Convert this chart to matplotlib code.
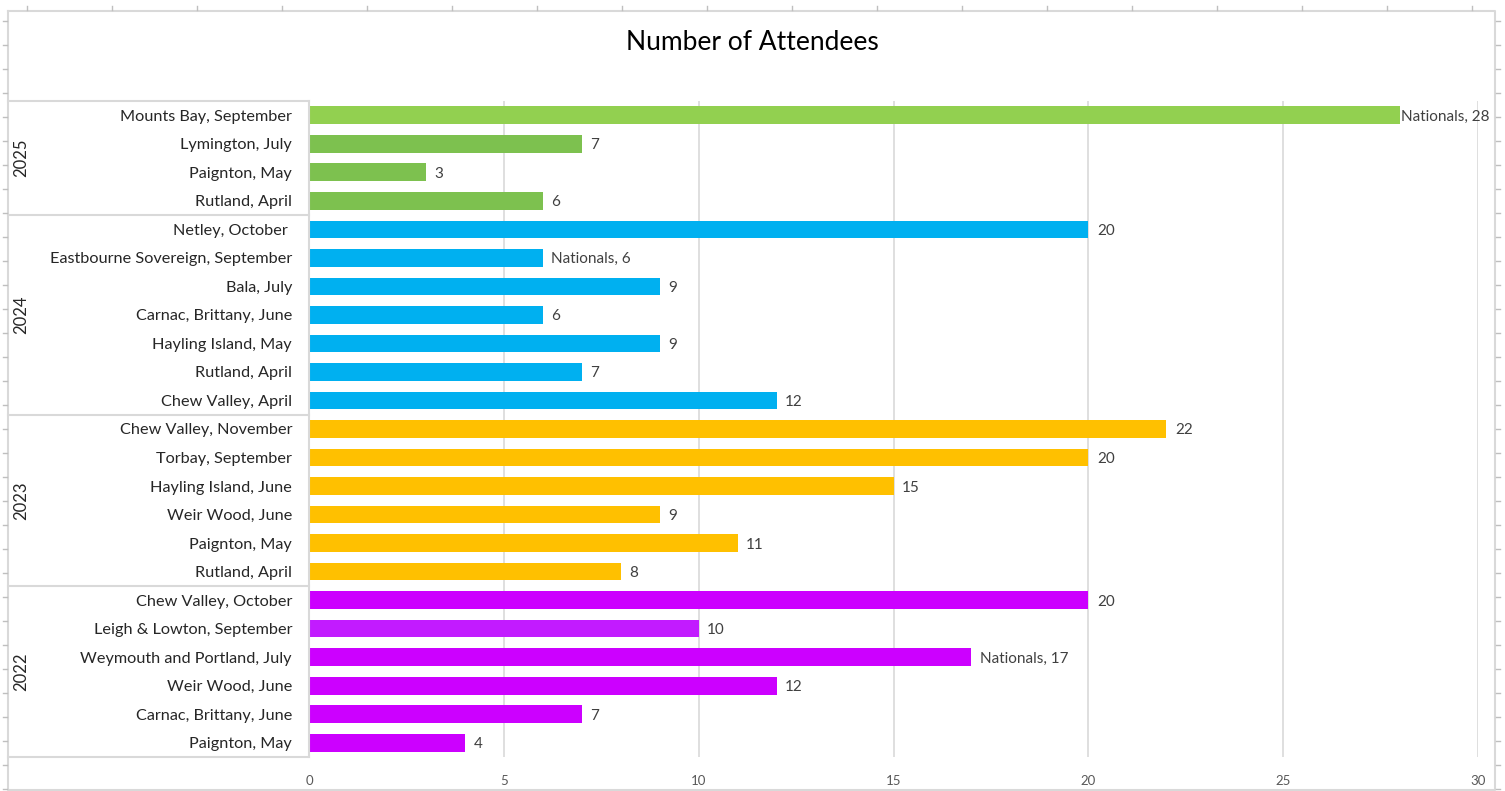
import matplotlib
matplotlib.use("Agg")
import matplotlib.pyplot as plt
from matplotlib.lines import Line2D
from matplotlib.transforms import offset_copy

years = ["2025", "2024", "2023", "2022"]
events = [
    ["Mounts Bay, September", "Lymington, July", "Paignton, May", "Rutland, April"],
    ["Netley, October ", "Eastbourne Sovereign, September", "Bala, July", "Carnac, Brittany, June",
     "Hayling Island, May", "Rutland, April", "Chew Valley, April"],
    ["Chew Valley, November", "Torbay, September", "Hayling Island, June", "Weir Wood, June",
     "Paignton, May", "Rutland, April"],
    ["Chew Valley, October", "Leigh & Lowton, September", "Weymouth and Portland, July",
     "Weir Wood, June", "Carnac, Brittany, June", "Paignton, May"],
]
attendees = [
    [28, 7, 3, 6],
    [20, 6, 9, 6, 9, 7, 12],
    [22, 20, 15, 9, 11, 8],
    [20, 10, 17, 12, 7, 4],
]
label_prefix = [
    ["Nationals, ", "", "", ""],
    ["", "Nationals, ", "", "", "", "", ""],
    ["", "", "", "", "", ""],
    ["", "", "Nationals, ", "", "", ""],
]
bar_colors = [
    ["#92D050", "#7DC14F", "#7DC14F", "#7DC14F"],
    ["#00B0F0"] * 7,
    ["#FFC000"] * 6,
    ["#CC00FF", "#C21BFF", "#CC00FF", "#CC00FF", "#CC00FF", "#CC00FF"],
]
xticks = [0, 5, 10, 15, 20, 25, 30]

plt.rcParams['font.family'] = ['Lato', 'DejaVu Sans']
W, H = 1505, 791
fig = plt.figure(figsize=(W / 100, H / 100), dpi=100)
fig.patch.set_facecolor("white")

def fx(px):
    return px / W

def fy(py):
    return 1 - py / H

ax_left, ax_right, ax_top, ax_bot = 309, 1478, 101, 757
ax = fig.add_axes([fx(ax_left), fy(ax_bot), fx(ax_right - ax_left), (ax_bot - ax_top) / H])

n = sum(len(e) for e in events)
labels, vals, cols, texts = [], [], [], []
for g in range(len(years)):
    for e, v, c, p in zip(events[g], attendees[g], bar_colors[g], label_prefix[g]):
        labels.append(e)
        vals.append(v)
        cols.append(c)
        texts.append(f"{p}{v}")
ypos = list(range(n))
ax.barh(ypos, vals, height=0.62, color=cols, zorder=3)
tr = offset_copy(ax.transData, fig=fig, x=0, y=-1.5, units="dots")
for y, v, t in zip(ypos, vals, texts):
    gap = 0.03 if v >= 27 else 0.22
    ax.text(v + gap, y, t, va="center", ha="left", fontsize=11, color="#404040", zorder=4,
            transform=tr)

ax.set_xlim(0, 30)
ax.set_ylim(n - 0.5, -0.5)
ax.set_xticks(xticks)
ax.set_xticklabels([str(t) for t in xticks], fontsize=9.5, color="#595959")
ax.tick_params(axis="x", length=0, pad=13)
ax.set_yticks([])
ax.grid(axis="x", color="#D9D9D9", linewidth=1.2, zorder=0)
for s in ax.spines.values():
    s.set_visible(False)
ax.set_facecolor("none")

# category labels
row_h = (ax_bot - ax_top) / n
for i, lab in enumerate(labels):
    yc = ax_top + row_h * (i + 0.5) + 1.5
    fig.text(fx(292), fy(yc), lab, ha="right", va="center",
             fontsize=11.7, color="#262626")

# group boxes
gc = "#D9D9D9"
start = 0
bounds = [ax_top]
for g in range(len(years)):
    cnt = len(events[g])
    y0 = ax_top + row_h * start
    y1 = ax_top + row_h * (start + cnt)
    bounds.append(y1)
    fig.text(fx(21), fy((y0 + y1) / 2), years[g], rotation=90, ha="center", va="center",
             fontsize=12, color="#262626")
    start += cnt
for b in bounds:
    fig.add_artist(Line2D([fx(8), fx(ax_left)], [fy(b), fy(b)], color=gc, lw=1.5))
fig.add_artist(Line2D([fx(ax_left), fx(ax_left)], [fy(ax_top), fy(ax_bot)], color=gc, lw=1.5))

# title
fig.text(fx(752), fy(42), "Number of Attendees", ha="center", va="center", fontsize=19, color="#000000")

# chart border
fig.add_artist(Line2D([fx(8), fx(1495), fx(1495), fx(8), fx(8)],
                      [fy(11), fy(11), fy(790), fy(790), fy(11)], color="#D9D9D9", lw=1.5))
# spreadsheet tick marks
for yy in range(21, 791, 24):
    fig.add_artist(Line2D([fx(3), fx(7)], [fy(yy), fy(yy)], color="#BFBFBF", lw=1))
    fig.add_artist(Line2D([fx(1496), fx(1500)], [fy(yy), fy(yy)], color="#BFBFBF", lw=1))
for xx in range(27, 1495, 85):
    fig.add_artist(Line2D([fx(xx), fx(xx)], [fy(6), fy(10)], color="#BFBFBF", lw=1))

fig.savefig("out.png", dpi=100, facecolor="white")
